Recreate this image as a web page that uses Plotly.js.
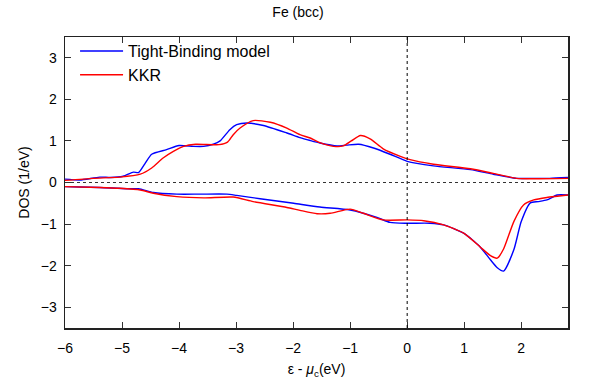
<!DOCTYPE html>
<html>
<head>
<meta charset="utf-8">
<script src="https://cdn.plot.ly/plotly-3.0.1.min.js"></script>
<style>html,body{margin:0;padding:0;background:#fff;}#chart{width:596px;height:383px;}</style>
</head>
<body>
<div id="chart"></div>
<script>
// Tight-Binding model, spin up
const tbUpX = [-6.0, -5.74, -5.39, -5.2, -4.98, -4.80, -4.71, -4.60, -4.48, -4.22, -4.0, -3.75, -3.57, -3.40, -3.28, -3.11, -2.99, -2.81, -2.52, -2.11, -1.88, -1.70, -1.53, -1.23, -1.06, -0.85, -0.59, -0.30, 0.0, 0.46, 1.11, 1.51, 1.92, 2.22, 2.5, 2.82];
const tbUpY = [0.08, 0.06, 0.13, 0.12, 0.15, 0.25, 0.24, 0.45, 0.68, 0.79, 0.89, 0.87, 0.87, 0.92, 1.0, 1.27, 1.39, 1.43, 1.37, 1.19, 1.08, 1.01, 0.95, 0.88, 0.90, 0.92, 0.83, 0.68, 0.51, 0.40, 0.31, 0.20, 0.10, 0.10, 0.10, 0.12];
// KKR, spin up
const kkrUpX = [-6.0, -5.5, -5.04, -4.68, -4.48, -4.28, -4.1, -3.92, -3.71, -3.30, -3.15, -3.05, -2.93, -2.70, -2.40, -2.11, -1.88, -1.70, -1.53, -1.29, -1.12, -0.98, -0.82, -0.65, -0.42, -0.12, 0.05, 0.46, 1.11, 1.51, 1.92, 2.22, 2.82];
const kkrUpY = [0.05, 0.10, 0.13, 0.20, 0.35, 0.59, 0.75, 0.87, 0.92, 0.91, 0.97, 1.15, 1.31, 1.49, 1.45, 1.31, 1.15, 1.07, 0.96, 0.87, 0.88, 1.0, 1.13, 1.05, 0.81, 0.63, 0.55, 0.44, 0.33, 0.22, 0.10, 0.09, 0.10];
// Tight-Binding model, spin down
const tbDnX = [-6.0, -5.74, -5.39, -4.92, -4.71, -4.45, -4.04, -3.63, -3.16, -2.99, -2.58, -1.99, -1.53, -1.0, -0.53, -0.30, 0.0, 0.40, 0.64, 0.99, 1.28, 1.46, 1.58, 1.69, 1.87, 2.0, 2.16, 2.30, 2.45, 2.63, 2.82];
const tbDnY = [-0.10, -0.11, -0.12, -0.15, -0.15, -0.24, -0.28, -0.28, -0.28, -0.31, -0.39, -0.50, -0.59, -0.66, -0.84, -0.96, -0.98, -0.98, -1.02, -1.22, -1.55, -1.86, -2.05, -2.13, -1.62, -0.94, -0.49, -0.46, -0.42, -0.30, -0.30];
// KKR, spin down
const kkrDnX = [-6.0, -5.39, -5.04, -4.68, -4.45, -4.04, -3.57, -3.05, -2.70, -2.11, -1.88, -1.58, -1.35, -1.0, -0.77, -0.42, 0.0, 0.29, 0.64, 0.99, 1.28, 1.46, 1.58, 1.69, 1.87, 2.04, 2.22, 2.45, 2.63, 2.82];
const kkrDnY = [-0.10, -0.12, -0.14, -0.18, -0.26, -0.34, -0.37, -0.35, -0.46, -0.60, -0.67, -0.75, -0.74, -0.64, -0.74, -0.90, -0.90, -0.92, -1.02, -1.22, -1.55, -1.76, -1.82, -1.60, -0.94, -0.54, -0.42, -0.36, -0.33, -0.30];

const seriesNames = ["Tight-Binding model", "KKR"];
const xTickVals = [-6, -5, -4, -3, -2, -1, 0, 1, 2];
const yTickVals = [-3, -2, -1, 0, 1, 2, 3];

const blue = "#0000ff", red = "#ff0000";
const lw = 1.4;
const traces = [
  {x: tbUpX, y: tbUpY, name: seriesNames[0], mode: "lines", line: {color: blue, width: lw, shape: "spline", smoothing: 0.6}, legendgroup: "tb"},
  {x: kkrUpX, y: kkrUpY, name: seriesNames[1], mode: "lines", line: {color: red, width: lw, shape: "spline", smoothing: 0.6}, legendgroup: "kkr"},
  {x: tbDnX, y: tbDnY, name: seriesNames[0], mode: "lines", line: {color: blue, width: lw, shape: "spline", smoothing: 0.6}, legendgroup: "tb", showlegend: false},
  {x: kkrDnX, y: kkrDnY, name: seriesNames[1], mode: "lines", line: {color: red, width: lw, shape: "spline", smoothing: 0.6}, legendgroup: "kkr", showlegend: false}
];

const font = "Liberation Sans, Arial, Helvetica, sans-serif";
const layout = {
  width: 596, height: 383,
  margin: {l: 65, r: 28, t: 37, b: 55},
  paper_bgcolor: "#fff", plot_bgcolor: "#fff",
  font: {family: font, size: 14, color: "#000"},
  title: {text: "Fe (bcc)", x: 0.5, xanchor: "center", y: 0.968, yanchor: "middle", font: {family: font, size: 14, color: "#000"}},
  xaxis: {
    range: [-6, 2.82], tickvals: xTickVals, ticks: "inside", ticklen: 6, tickwidth: 1, tickcolor: "#333",
    showgrid: false, zeroline: false, showline: true, linecolor: "#222", linewidth: 1.5, mirror: "ticks",
    ticklabelstandoff: 7,
    title: {text: "ε - <i>μ</i><sub>c</sub>(eV)", font: {family: font, size: 14}, standoff: 9},
    tickfont: {family: font, size: 14}
  },
  yaxis: {
    range: [-3.5, 3.5], tickvals: yTickVals, ticks: "inside", ticklen: 6, tickwidth: 1, tickcolor: "#333",
    showgrid: false, zeroline: false, showline: true, linecolor: "#222", linewidth: 1.5, mirror: "ticks",
    ticklabelstandoff: 4,
    title: {text: "DOS (1/eV)", font: {family: font, size: 14}, standoff: 8},
    tickfont: {family: font, size: 14}
  },
  showlegend: true,
  legend: {x: 0.02, y: 1.01, xanchor: "left", yanchor: "top", bgcolor: "rgba(0,0,0,0)", borderwidth: 0,
           font: {family: font, size: 16, color: "#000"}, tracegroupgap: 0, itemwidth: 43},
  shapes: [
    {type: "line", xref: "x", yref: "paper", x0: 0, x1: 0, y0: 0, y1: 1, line: {color: "#000", width: 1, dash: "dot"}},
    {type: "line", xref: "paper", yref: "y", x0: 0, x1: 1, y0: 0, y1: 0, line: {color: "#333", width: 1, dash: "dot"}}
  ]
};

Plotly.newPlot("chart", traces, layout, {displayModeBar: false, staticPlot: true});
</script>
</body>
</html>
